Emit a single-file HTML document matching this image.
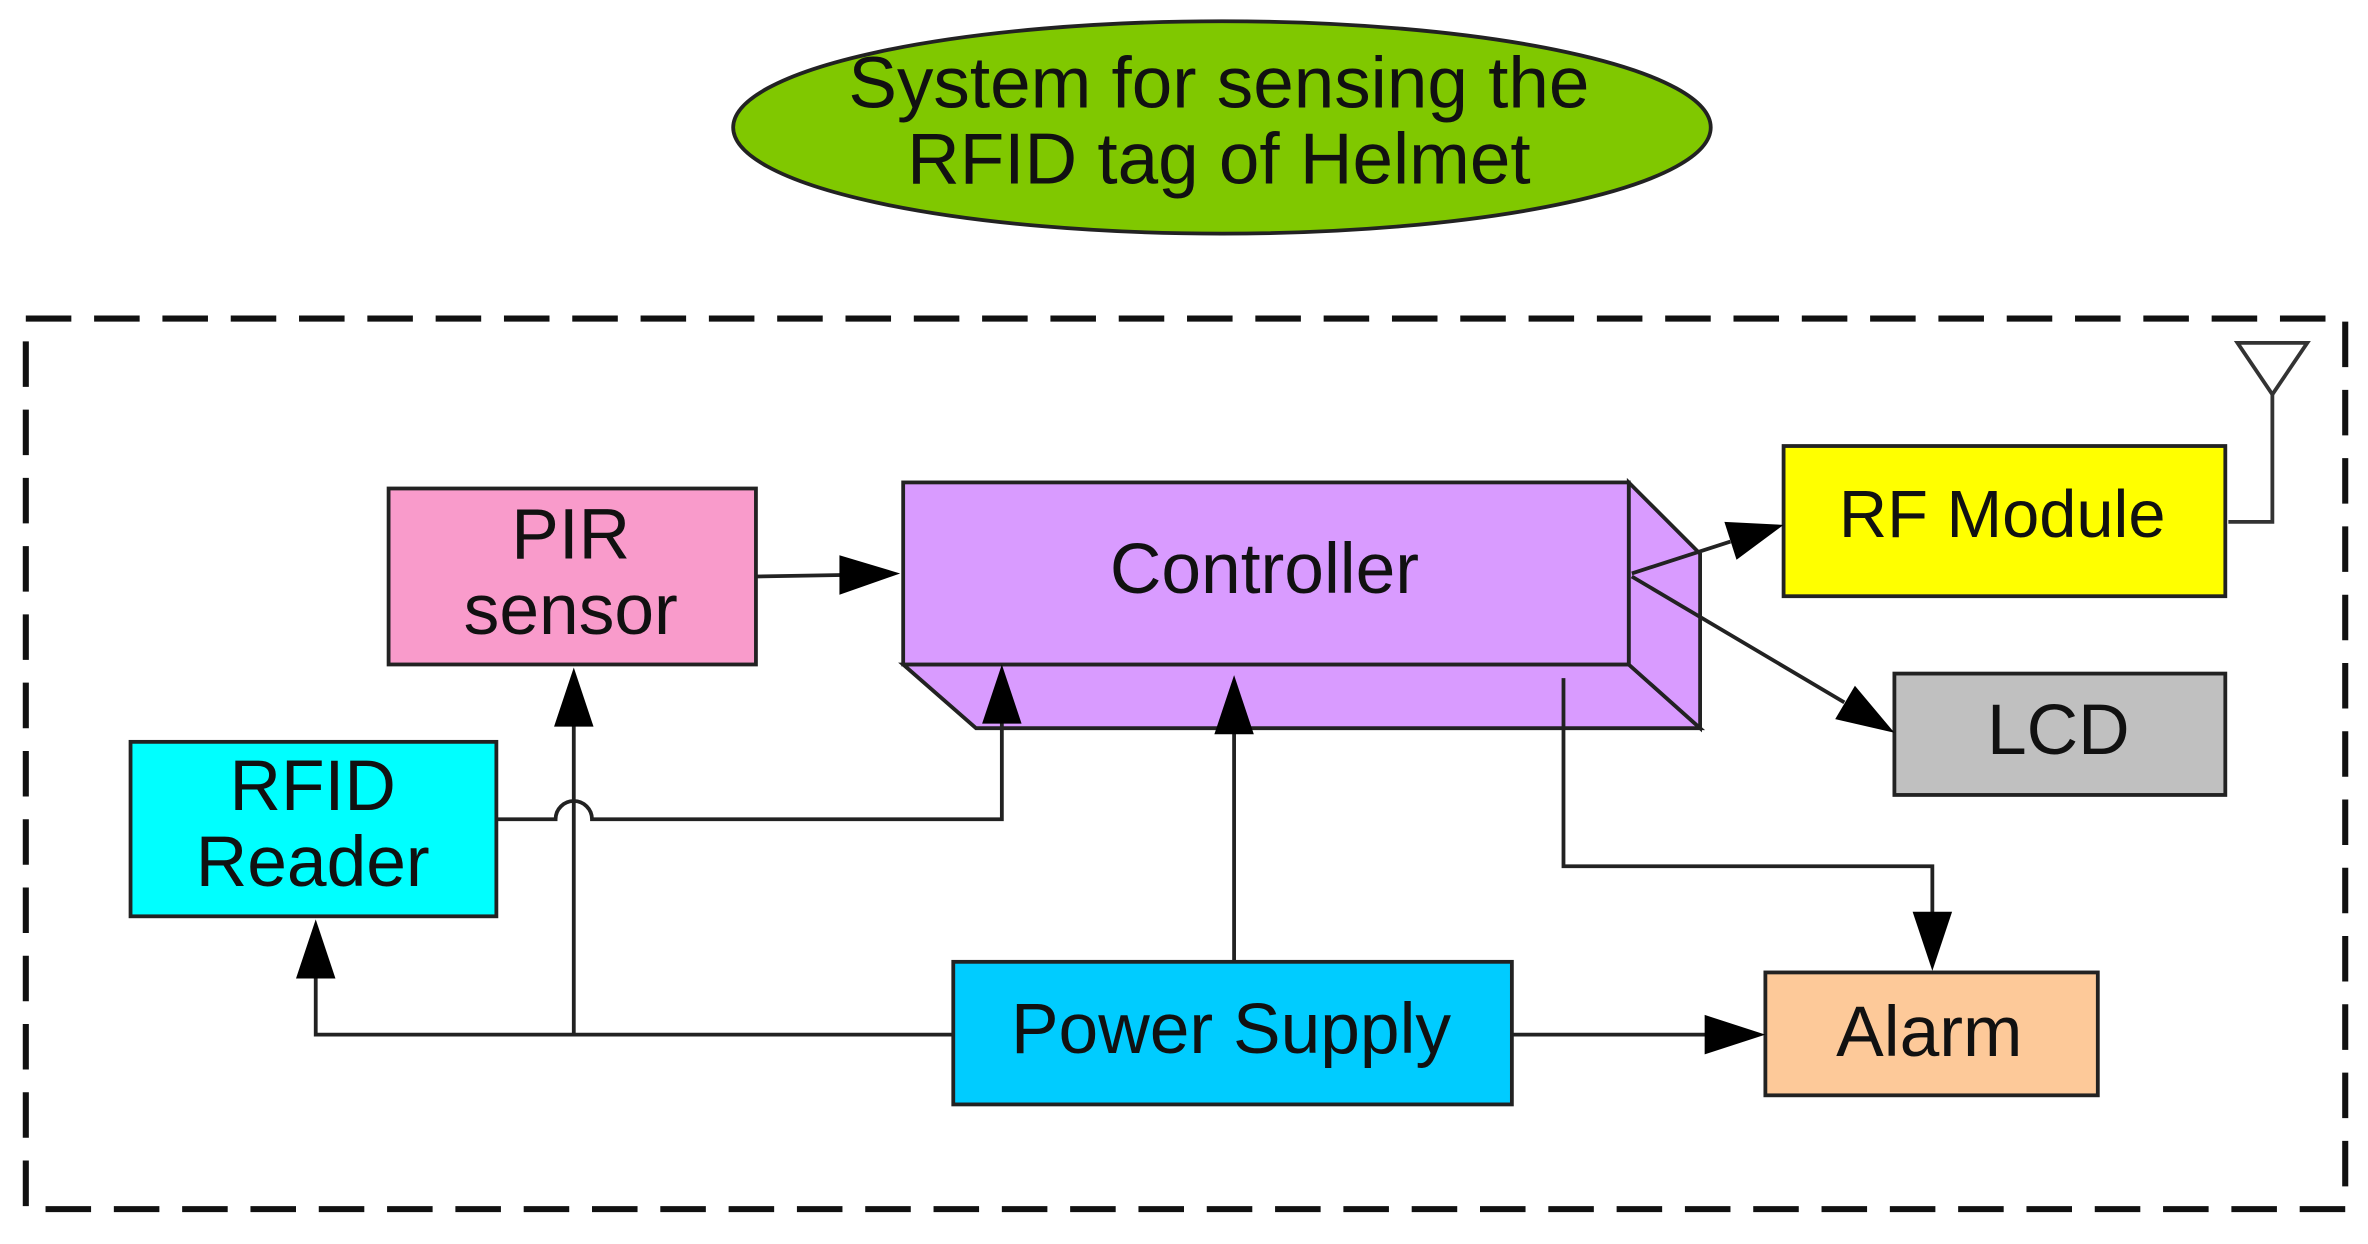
<!DOCTYPE html>
<html><head><meta charset="utf-8"><style>
html,body{margin:0;padding:0;background:#fff;}
svg{display:block;}
text{font-family:"Liberation Sans",Arial,sans-serif;fill:#111;}
</style></head><body>
<svg width="2368" height="1244" viewBox="0 0 1560 820" preserveAspectRatio="none" xmlns="http://www.w3.org/2000/svg">
<!-- title ellipse -->
<ellipse cx="805" cy="84" rx="322" ry="70" fill="#80c800" stroke="#222" stroke-width="2.5"/>
<text x="803" y="71" font-size="48" text-anchor="middle">System for sensing the</text>
<text x="803" y="121" font-size="48" text-anchor="middle">RFID tag of Helmet</text>
<!-- dashed border -->
<rect x="17" y="210" width="1528" height="587" fill="none" stroke="#111" stroke-width="4" stroke-dasharray="30,15"/>
<!-- antenna -->
<polygon points="1474,226 1520,226 1497,260" fill="#fff" stroke="#333" stroke-width="2.5"/>
<polyline points="1497,260 1497,344 1468,344" fill="none" stroke="#333" stroke-width="2.5"/>
<!-- controller 3D -->
<polygon points="595,438 1073,438 1120,480 643,480" fill="#d99bff" stroke="#222" stroke-width="2.5"/>
<polygon points="1073,318 1120,365 1120,480 1073,438" fill="#d99bff" stroke="#222" stroke-width="2.5"/>
<rect x="595" y="318" width="478" height="120" fill="#d99bff" stroke="#222" stroke-width="2.5"/>
<text x="833" y="391" font-size="47" text-anchor="middle">Controller</text>
<!-- boxes -->
<rect x="256" y="322" width="242" height="116" fill="#f99bcb" stroke="#222" stroke-width="2.5"/>
<text x="376" y="368" font-size="47" text-anchor="middle">PIR</text>
<text x="376" y="418" font-size="47" text-anchor="middle">sensor</text>
<rect x="1175" y="294" width="291" height="99" fill="#ffff00" stroke="#222" stroke-width="2.5"/>
<text x="1319" y="354" font-size="44" text-anchor="middle">RF Module</text>
<rect x="1248" y="444" width="218" height="80" fill="#c0c0c0" stroke="#222" stroke-width="2.5"/>
<text x="1356" y="497" font-size="47" text-anchor="middle">LCD</text>
<rect x="86" y="489" width="241" height="115" fill="#00ffff" stroke="#222" stroke-width="2.5"/>
<text x="206" y="534" font-size="47" text-anchor="middle">RFID</text>
<text x="206" y="584" font-size="47" text-anchor="middle">Reader</text>
<rect x="628" y="634" width="368" height="94" fill="#00ccff" stroke="#222" stroke-width="2.5"/>
<text x="811" y="694" font-size="47" text-anchor="middle">Power Supply</text>
<rect x="1163" y="641" width="219" height="81" fill="#fdc999" stroke="#222" stroke-width="2.5"/>
<text x="1271" y="696" font-size="47" text-anchor="middle">Alarm</text>
<!-- connectors -->
<g fill="none" stroke="#222" stroke-width="2.5">
<line x1="498" y1="380" x2="555" y2="379"/>
<path d="M327,540 H366 A12,12 0 0 1 390,540 H660 V475"/>
<path d="M628,682 H208 V645"/>
<line x1="378" y1="682" x2="378" y2="478"/>
<line x1="813" y1="634" x2="813" y2="483"/>
<line x1="996" y1="682" x2="1125" y2="682"/>
<path d="M1030,447 V571 H1273 V603"/>
<line x1="1075" y1="378" x2="1140" y2="357"/>
<line x1="1075" y1="380" x2="1215" y2="463"/>
</g>
<g fill="#000">
<polygon points="593,378 553,366 553,392"/>
<polygon points="660,438 647,477 673,477"/>
<polygon points="208,606 195,645 221,645"/>
<polygon points="378,440 365,479 391,479"/>
<polygon points="813,445 800,484 826,484"/>
<polygon points="1163,682 1123,669 1123,695"/>
<polygon points="1273,640 1260,601 1286,601"/>
<polygon points="1175,346 1136,344 1144,369"/>
<polygon points="1248,483 1222,452 1209,474"/>
</g>
</svg>
</body></html>
